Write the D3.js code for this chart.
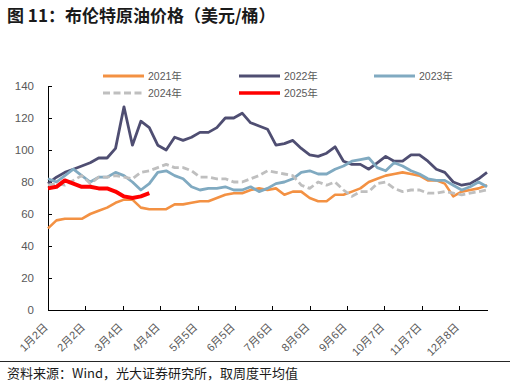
<!DOCTYPE html>
<html>
<head>
<meta charset="utf-8">
<script src="https://d3js.org/d3.v7.min.js"></script>
<style>
body {
  margin: 0;
  background: #ffffff;
}
.title {
  font-family: "Noto Sans CJK SC", sans-serif;
  font-weight: bold;
  font-size: 17px;
  fill: #1a1a1a;
}
.source {
  font-family: "Noto Sans CJK SC", sans-serif;
  font-size: 13px;
  fill: #1a1a1a;
}
.axis text {
  font-family: "Liberation Sans", "Noto Sans CJK SC", sans-serif;
  fill: #595959;
}
.axis path,
.axis line {
  stroke: #000;
  shape-rendering: crispEdges;
}
.legend text {
  font-family: "Liberation Sans", "Noto Sans CJK SC", sans-serif;
  font-size: 10.5px;
  fill: #595959;
}
.series {
  fill: none;
  stroke-linejoin: round;
}
</style>
</head>
<body>
<div id="container"></div>

<script>

// x categories: one per day, 1月2日 .. 12月31日 (leap-year calendar)
var days = d3.timeDay.range(new Date(2024, 0, 2), new Date(2025, 0, 1))
  .map(function(d) { return (d.getMonth() + 1) + "月" + d.getDate() + "日"; });

var tickLabels = ["1月2日", "2月2日", "3月4日", "4月4日", "5月5日", "6月5日",
                  "7月6日", "8月6日", "9月6日", "10月7日", "11月7日", "12月8日"];

var yTicks = [0, 20, 40, 60, 80, 100, 120, 140];

// weekly averages, one value every 7 days from 1月2日
var weeks = days.filter(function(d, i) { return i % 7 === 0; });

var years = ["2021年", "2022年", "2023年", "2024年", "2025年"];

var v2021 = [51, 56, 57, 57, 57, 60, 62, 64, 67, 69, 69, 64, 63, 63, 63, 66, 66, 67, 68, 68,
             70, 72, 73, 73, 75, 76, 75, 76, 72, 74, 74, 70, 68, 68, 72, 72, 74, 76, 80, 82,
             84, 85, 86, 85, 84, 81, 81, 79, 71, 74, 75, 76, 78];

var v2022 = [79, 83, 86, 88, 90, 92, 95, 95, 101, 127, 103, 118, 114, 103, 100, 108, 106, 108, 111, 111,
             114, 120, 120, 123, 117, 115, 113, 103, 104, 106, 101, 97, 96, 98, 102, 93, 91, 91, 88, 92,
             96, 93, 93, 97, 97, 93, 88, 86, 80, 78, 79, 82, 86];

var v2023 = [82, 80, 84, 88, 84, 80, 83, 83, 86, 84, 80, 75, 79, 86, 87, 84, 82, 77, 75, 76,
             76, 77, 75, 75, 77, 74, 76, 79, 80, 82, 86, 87, 85, 85, 88, 90, 93, 94, 95, 89,
             87, 92, 90, 87, 85, 82, 81, 81, 78, 75, 77, 80, 77];

var v2024 = [78, 79, 78, 81, 84, 79, 83, 83, 84, 83, 82, 86, 87, 89, 91, 89, 89, 87, 83, 83,
             82, 82, 80, 80, 82, 84, 87, 86, 85, 84, 78, 76, 80, 78, 80, 75, 71, 74, 74, 79,
             80, 76, 74, 75, 75, 73, 73, 74, 73, 72, 73, 74, 75];

var v2025 = [76, 77, 81, 79, 77, 77, 76, 76, 74, 71, 70, 71, 73];

var seriesValues = [v2021, v2022, v2023, v2024, v2025];

var colours = ["#f39143", "#4f4e72", "#80aac1", "#bfbfbf", "#ff0000"];
var widths = [2.6, 2.8, 2.8, 2.8, 4];

var svg = d3.select("div#container")
  .append("svg")
  .attr("width", 516)
  .attr("height", 386);

var plot = {left: 48, right: 487, top: 86, bottom: 310};

var x = d3.scalePoint().domain(days).range([plot.left, plot.right]),
    y = d3.scaleLinear().domain([0, 140]).range([plot.bottom, plot.top]);

// title
svg.append("text")
  .attr("class", "title")
  .attr("x", 7)
  .attr("y", 22)
  .text("图 11：布伦特原油价格（美元/桶）");

// axes
svg.append("g")
  .attr("class", "axis axis--y")
  .attr("transform", "translate(" + plot.left + ",0)")
  .call(d3.axisLeft(y).tickValues(yTicks).tickSizeInner(-4).tickSizeOuter(0).tickPadding(14))
  .selectAll("text")
    .style("font-size", "11.5px");

var xAxis = svg.append("g")
  .attr("class", "axis axis--x")
  .attr("transform", "translate(0," + plot.bottom + ")")
  .call(d3.axisBottom(x).tickValues(tickLabels).tickSizeInner(-4).tickSizeOuter(0));

xAxis.selectAll("text")
  .style("font-size", "11px")
  .style("text-anchor", "end")
  .attr("y", 0)
  .attr("dy", 0)
  .attr("transform", "translate(0,18) rotate(-45)");

// lines
var line = d3.line()
  .x(function(d, i) { return x(weeks[i]); })
  .y(function(d) { return y(d); });

svg.selectAll("path.series")
  .data(seriesValues)
  .enter().append("path")
    .attr("class", "series")
    .attr("d", line)
    .attr("stroke", function(d, i) { return colours[i]; })
    .attr("stroke-width", function(d, i) { return widths[i]; })
    .attr("stroke-dasharray", function(d, i) { return i === 3 ? "7,3.5" : null; });

// legend, two rows of three
var legendPos = [[103, 76], [239, 76], [374, 76], [103, 93], [239, 93]];

var legend = svg.append("g").attr("class", "legend")
  .selectAll("g")
  .data(years)
  .enter().append("g")
    .attr("transform", function(d, i) { return "translate(" + legendPos[i][0] + "," + legendPos[i][1] + ")"; });

legend.append("line")
  .attr("x1", 0)
  .attr("x2", 41)
  .attr("stroke", function(d, i) { return colours[i]; })
  .attr("stroke-width", function(d, i) { return i === 4 ? 3.5 : 2.8; })
  .attr("stroke-dasharray", function(d, i) { return i === 3 ? "7,3.5" : null; });

legend.append("text")
  .attr("x", 45)
  .attr("dy", "0.35em")
  .text(function(d) { return d; });

// source note
svg.append("line")
  .attr("x1", 0)
  .attr("x2", 510)
  .attr("y1", 361.5)
  .attr("y2", 361.5)
  .attr("stroke", "#262626")
  .attr("stroke-width", 1);

svg.append("text")
  .attr("class", "source")
  .attr("x", 7)
  .attr("y", 378)
  .text("资料来源：Wind，光大证券研究所，取周度平均值");

</script>
</body>
</html>
